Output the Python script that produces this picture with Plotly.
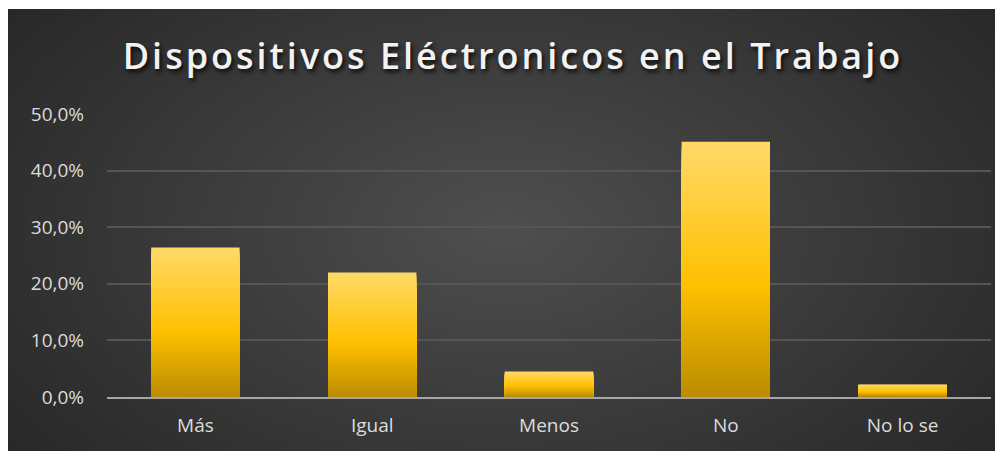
"""
Dispositivos Eléctronicos en el Trabajo - bar chart with Excel-like dark style
"""

import plotly.graph_objects as go

# data
categories = ["Más", "Igual", "Menos", "No", "No lo se"]
values = [0.264, 0.220, 0.045, 0.451, 0.022]
y_ticks = [0.0, 0.1, 0.2, 0.3, 0.4, 0.5]
title_text = "Dispositivos Eléctronicos en el Trabajo"

# the page body adds an 8px margin, so the figure itself is 8px smaller
W, H = 995, 443
L, R, T, B = 99, 12, 106, 54
PW, PH = W - L - R, H - T - B


def px(x):
    return (x - L) / PW


def py(y):
    return (H - B - y) / PH


def lerp(c0, c1, t):
    return tuple(round(a + (b - a) * t) for a, b in zip(c0, c1))


# bar gradient: bottom -> middle -> top
stops = [(0.0, (184, 138, 0)), (0.45, (255, 192, 0)), (1.0, (255, 217, 102))]


def grad_color(f):
    for (f0, c0), (f1, c1) in zip(stops[:-1], stops[1:]):
        if f <= f1:
            return "rgb(%d,%d,%d)" % lerp(c0, c1, (f - f0) / (f1 - f0))
    return "rgb(%d,%d,%d)" % stops[-1][1]


fig = go.Figure()

# stacked overlay bars to fake a vertical gradient, tallest first
N = 40
for j in range(N, 0, -1):
    frac = j / N
    fig.add_trace(go.Bar(
        x=categories,
        y=[v * frac for v in values],
        marker=dict(color=grad_color(frac), line=dict(width=0)),
        hoverinfo="skip",
        showlegend=False,
    ))

# background: dark panel with a radial glow made of stacked ellipses
shapes = [
    dict(type="rect", xref="paper", yref="paper", layer="below",
         x0=px(0), x1=px(W), y0=py(1), y1=py(H),
         fillcolor="#262626", line=dict(width=0)),
]
cx, cy = 497, 222
n_glow = 40
for k in range(n_glow):
    s = 1 - k / n_glow
    rx, ry = 640 * s, 380 * s
    shapes.append(dict(
        type="circle", xref="paper", yref="paper", layer="below",
        x0=px(cx - rx), x1=px(cx + rx), y0=py(cy + ry), y1=py(cy - ry),
        fillcolor="rgba(255,255,255,0.0065)", line=dict(width=0),
    ))
# thin white strip on top, like the reference
shapes.append(dict(type="rect", xref="paper", yref="paper", layer="below",
                   x0=px(0), x1=px(W), y0=py(1), y1=py(-5),
                   fillcolor="white", line=dict(width=0)))

fig.update_layout(
    width=W, height=H,
    margin=dict(l=L, r=R, t=T, b=B),
    paper_bgcolor="white",
    plot_bgcolor="rgba(0,0,0,0)",
    barmode="overlay",
    bargap=0.5,
    separators=",.",
    shapes=shapes,
    title=dict(
        text='<span style="letter-spacing:3px">%s</span>' % title_text,
        x=505 / W, xanchor="center", xref="container",
        y=1 - 48 / H, yanchor="middle", yref="container",
        font=dict(family="Open Sans", size=36, weight=600, color="#f2f2f2",
                  shadow="2px 3px 4px rgba(0,0,0,0.8)"),
    ),
    font=dict(family="Open Sans", size=19, color="#dcdcdc"),
    xaxis=dict(
        showgrid=False,
        showline=True, linecolor="#a6a6a6", linewidth=2,
        ticks="", ticklabelstandoff=10,
        fixedrange=True,
    ),
    yaxis=dict(
        range=[0, 0.5],
        tickvals=y_ticks,
        tickformat=".1%",
        showgrid=True, gridcolor="#555555", gridwidth=1.5,
        zeroline=False, showline=False,
        ticks="", ticklabelstandoff=22,
        fixedrange=True,
    ),
)

fig.write_html("out.html")
